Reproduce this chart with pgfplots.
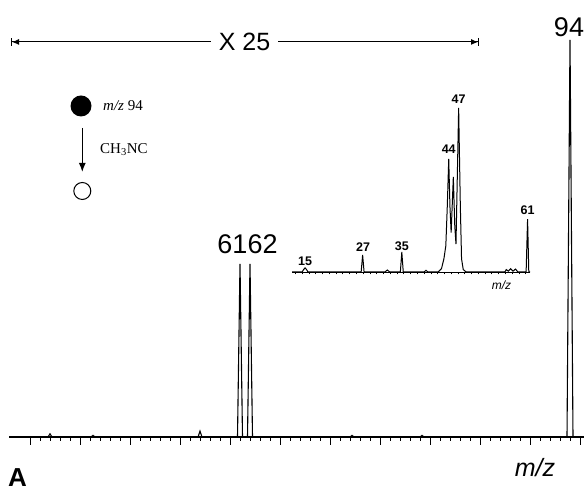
\documentclass[border=0pt]{standalone}
\usepackage{pgfplots}
\pgfplotsset{compat=1.18}
\usepackage{fontspec}
\setmainfont{Liberation Sans}
\newfontfamily\serif{Liberation Serif}
\usetikzlibrary{arrows.meta}
\begin{document}
\begin{tikzpicture}[x=1pt,y=1pt]
\useasboundingbox (0,0) rectangle (584,494);
% main spectrum
\begin{axis}[
  at={(9pt,57pt)}, anchor=south west,
  scale only axis, width=575pt, height=397pt,
  xmin=37.9, xmax=95.4, ymin=0, ymax=100,
  axis x line*=bottom, axis y line=none,
  xtick={40,45,...,95}, minor x tick num=4, xticklabels={},
  tick align=outside, major tick length=8pt, minor tick length=4pt,
  every tick/.style={black, line width=1pt},
  axis line style={line width=1.2pt},
  clip=false,
]
\addplot[black, line width=1.1pt] coordinates {
 (37.9,0) (41.8,0) (42,0.8) (42.2,0) (46.1,0) (46.3,0.4) (46.5,0)
 (56.8,0) (57,1.5) (57.2,0) (60.75,0) (61,43.6) (61.25,0) (61.75,0)
 (62,43.6) (62.25,0) (72,0) (72.2,0.4) (72.4,0) (79,0) (79.2,0.4) (79.4,0)
 (93.7,0) (94,100) (94.3,0) (95.4,0)};
\node[anchor=base east, font=\fontsize{27}{27}\selectfont, inner sep=0pt] at (axis cs:61.75,46.3) {61};
\node[anchor=base west, font=\fontsize{27}{27}\selectfont, inner sep=0pt] at (axis cs:61.75,46.3) {62};
\node[anchor=base, font=\fontsize{27}{27}\selectfont, inner sep=0pt] at (axis cs:93.9,100.8) {94};
\end{axis}
% inset spectrum
\begin{axis}[
  at={(292pt,222pt)}, anchor=south west,
  scale only axis, width=238pt, height=164pt,
  xmin=12.3, xmax=61.5, ymin=0, ymax=100,
  axis x line*=bottom, axis y line=none,
  xtick={13,14.4,...,61}, xticklabels={},
  tick align=outside, major tick length=2.5pt,
  every tick/.style={black, line width=0.6pt},
  axis line style={line width=0.8pt},
  clip=false,
]
\addplot[black, line width=1pt] coordinates {
 (12.3,0) (14.4,0) (14.7,1.5) (15,2.5) (15.3,1.5) (15.6,0)
 (26.6,0) (26.9,10.4) (27.2,0) (31.5,0) (32,1.2) (32.5,0)
 (34.7,0) (35,12.2) (35.3,0) (39.6,0) (40,1) (40.4,0)
 (42.5,0) (43.2,2) (43.7,8) (44.1,16) (44.4,40) (44.7,69) (44.95,40)
 (45.2,24) (45.65,58) (45.95,28) (46.2,17) (46.75,100) (47.1,40)
 (47.35,8) (47.7,1.5) (48.3,0) (56.3,0) (56.6,1.5) (57,0.5) (57.5,2)
 (58,0.5) (58.5,1.8) (59,0) (60.7,0) (61,32.3) (61.25,0) (61.5,0)};
\tikzset{lab/.style={anchor=base, font=\bfseries\fontsize{12.5}{12.5}\selectfont, inner sep=0pt}}
\node[lab] at (axis cs:15,4) {15};
\node[lab] at (axis cs:27,12.2) {27};
\node[lab] at (axis cs:35,13.4) {35};
\node[lab] at (axis cs:44.7,72) {44};
\node[lab] at (axis cs:46.75,102.5) {47};
\node[lab] at (axis cs:61,35) {61};
\node[anchor=base, font=\itshape\fontsize{12}{12}\selectfont, inner sep=0pt] at (axis cs:55.6,-10.5) {m/z};
\end{axis}
% X 25 arrow
\draw[line width=1pt, {Bar[width=8pt]Latex[length=7pt,width=6pt]}-{Latex[length=7pt,width=6pt]Bar[width=8pt]}] (11,452) -- (479,452);
\node[fill=white, inner xsep=8pt, font=\fontsize{25}{25}\selectfont] at (244.5,452) {X 25};
% scheme
\node[circle, fill=black, minimum size=21pt, inner sep=0pt] at (81,388) {};
\node[anchor=west, font=\serif\fontsize{15}{15}\selectfont, inner sep=0pt] at (103,388) {\textit{m/z} 94};
\draw[line width=1.3pt, -{Latex[length=9pt,width=7pt]}] (82.3,366) -- (82.3,322);
\node[anchor=west, font=\serif\fontsize{15}{15}\selectfont, inner sep=0pt] at (100,344) {CH\textsubscript{3}NC};
\node[circle, draw=black, line width=1pt, minimum size=17pt, inner sep=0pt] at (82.3,303) {};
% axis label and panel letter
\node[anchor=base, font=\itshape\fontsize{25}{25}\selectfont, inner sep=0pt] at (535,17) {m/z};
\node[anchor=base west, font=\bfseries\fontsize{26}{26}\selectfont, inner sep=0pt] at (8,7) {A};
\end{tikzpicture}
\end{document}
